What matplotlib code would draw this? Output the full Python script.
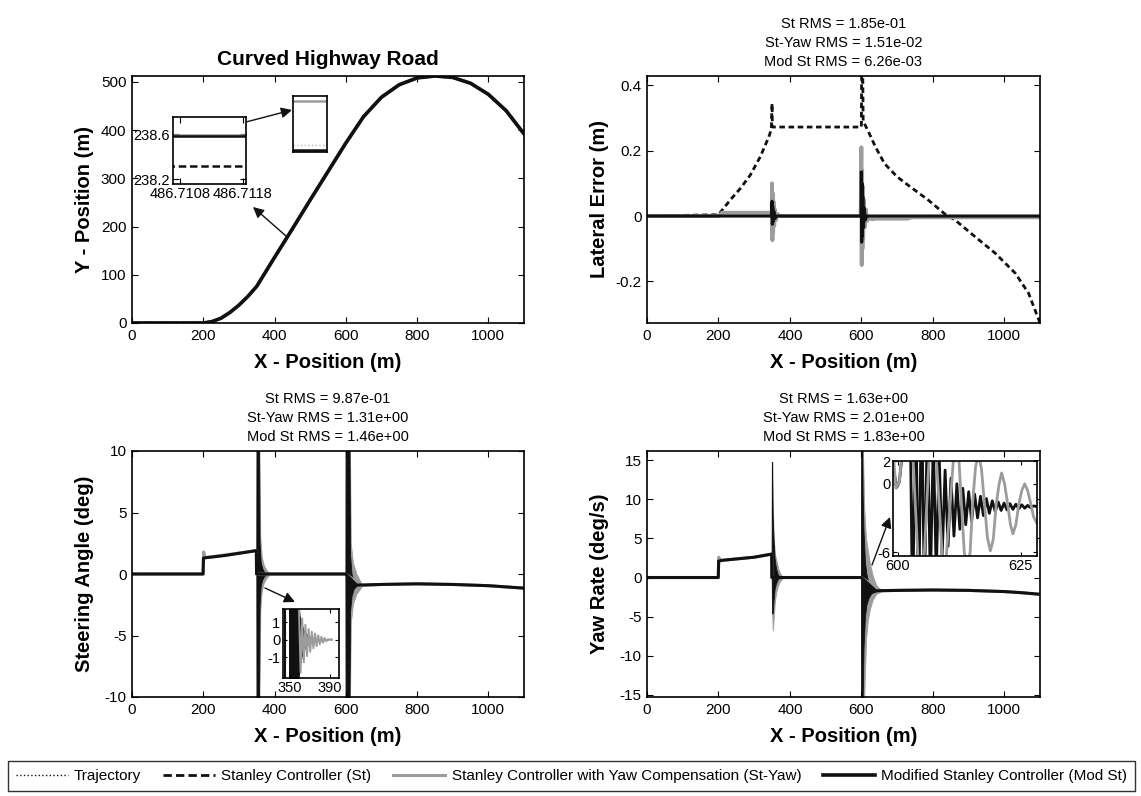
import matplotlib
matplotlib.use("Agg")
import matplotlib.pyplot as plt
from matplotlib.patches import FancyArrowPatch

plt.rcParams["font.family"] = ["Liberation Sans", "DejaVu Sans"]
plt.rcParams["axes.unicode_minus"] = False

# ---------------------------------------------------------------------------
# Data
# ---------------------------------------------------------------------------
# Road / trajectory (X, Y in m)
road_x = [0, 100, 200, 225, 250, 275, 300, 325, 350, 400, 450, 500, 550, 600,
          650, 700, 750, 800, 850, 900, 950, 1000, 1050, 1100]
road_y = [0, 0, 0, 3, 10, 22, 37, 55, 76, 136, 195, 255, 314, 373,
          428, 468, 494, 508, 512, 509, 497, 474, 440, 392]

# zoom detail around X = 486.711 m
zoom_x = [486.7106, 486.7119]
zoom_traj_y = [238.5844, 238.5844]
zoom_st_y = [238.32, 238.32]
zoom_yaw_y = [238.5899, 238.5899]
zoom_mod_y = [238.5837, 238.5837]

# Lateral error (m)
lat_ref_x = [0, 1100]
lat_ref_y = [0, 0]
lat_st_x = [0, 200, 233, 261, 289, 317, 341, 348, 350, 351, 600, 601, 603.5, 605,
            618, 640, 665, 700, 730, 787, 834, 862, 918, 975, 1031, 1068, 1100]
lat_st_y = [0, 0.004, 0.049, 0.084, 0.125, 0.181, 0.242, 0.265, 0.344, 0.272, 0.272,
            0.5, 0.5, 0.29, 0.262, 0.21, 0.16, 0.12, 0.095, 0.049, 0.006, -0.012,
            -0.063, -0.114, -0.175, -0.236, -0.327]
lat_yaw_x = [0, 200, 210, 345, 349, 350, 351, 352, 353, 354, 356, 358, 361, 365,
             372, 598, 600, 601, 602, 603, 604, 605, 607, 609, 612, 616, 622,
             630, 640, 730, 740, 1100]
lat_yaw_y = [0, 0, 0.01, 0.01, 0.008, 0.10, -0.074, 0.07, -0.05, 0.045, -0.03,
             0.02, -0.012, 0.006, 0.0, 0.0, 0.21, -0.15, 0.14, -0.10, 0.09, -0.07,
             0.05, -0.035, 0.02, -0.015, -0.005, -0.01, -0.008, -0.008, -0.004,
             -0.004]
lat_mod_x = [0, 349, 350, 351, 352, 353, 355, 358, 362, 599, 600, 601, 602, 603,
             604, 606, 608, 611, 615, 1100]
lat_mod_y = [0, 0, 0.045, -0.025, 0.03, -0.018, 0.015, -0.008, 0, 0, 0.135, -0.08,
             0.10, -0.06, 0.06, -0.035, 0.025, -0.012, 0, 0]

# Steering angle (deg): slow part
steer_yaw_x = [0, 199.5, 201, 204, 210, 260, 349, 349.5, 390, 599.5, 645, 700,
               800, 900, 1000, 1050, 1100]
steer_yaw_y = [0, 0, 1.8, 1.4, 1.35, 1.55, 1.9, 0, 0, 0, -0.95, -0.85, -0.8,
               -0.85, -0.95, -1.05, -1.15]
steer_mod_x = [0, 199.5, 200.5, 260, 349, 349.5, 378, 599.5, 630, 700, 800, 900,
               1000, 1050, 1100]
steer_mod_y = [0, 0, 1.3, 1.5, 1.9, 0, 0, 0, -0.9, -0.85, -0.8, -0.85, -0.95,
               -1.05, -1.15]
# Steering angle: oscillation envelopes (x, upper, lower)
steer_yaw_env1 = ([349, 349.5, 357, 360, 364, 370, 378, 388],
                  [1.9, 12, 12, 3, 1.4, 0.7, 0.3, 0],
                  [1.9, -12, -12, -3, -1.4, -0.7, -0.3, 0])
steer_mod_env1 = ([349, 349.5, 356, 358, 361, 365, 370, 378],
                  [1.9, 12, 12, 2.5, 1.0, 0.5, 0.2, 0],
                  [1.9, -12, -12, -2.5, -1.0, -0.5, -0.2, 0])
steer_yaw_env2 = ([599, 599.5, 611, 614, 620, 630, 645],
                  [0, 12, 12, 2.5, 0.9, 0, -0.85],
                  [0, -12, -12, -4, -2.4, -1.6, -1.0])
steer_mod_env2 = ([599, 599.5, 610, 612, 616, 622, 630],
                  [0, 12, 12, 1.5, 0, -0.6, -0.85],
                  [0, -12, -12, -3, -1.8, -1.2, -0.95])
# Steering inset (350-390 m)
sin_mod_x = [348.5, 358.0, 360, 362, 364, 367, 371, 376, 383, 392]
sin_mod_up = [3, 3, 1.4, 0.9, 0.55, 0.3, 0.13, 0.05, 0.02, 0.01]
sin_mod_lo = [-3, -3, -1.6, -1.0, -0.6, -0.35, -0.15, -0.06, -0.02, -0.01]
sin_pre_x = [344.6, 344.6]
sin_pre_y = [-3, 3]
sin_yaw_x = [357, 359.0, 360.6, 362.2, 363.8, 365.4, 367.0, 368.6, 370.2, 371.8,
             373.4, 375.0, 376.6, 378.2, 379.8, 381.4, 383.0, 384.6, 386.2, 388.0,
             392]
sin_yaw_y = [3, 1.7, -1.9, 1.2, -1.3, 0.85, -0.95, 0.6, -0.7, 0.45, -0.5, 0.35,
             -0.38, 0.25, -0.27, 0.16, -0.18, 0.09, -0.1, 0.02, 0.0]

# Yaw rate (deg/s): slow part
yaw_yaw_x = [0, 199.5, 201, 204, 210, 300, 349, 349.5, 390, 599.5, 655, 700, 800,
             900, 1000, 1050, 1100]
yaw_yaw_y = [0, 0, 2.6, 2.2, 2.2, 2.6, 3.0, 0, 0, 0, -1.7, -1.65, -1.6, -1.65,
             -1.8, -1.95, -2.15]
yaw_mod_x = [0, 199.5, 200.5, 210, 300, 349, 349.5, 372, 599.5, 640, 700, 800,
             900, 1000, 1050, 1100]
yaw_mod_y = [0, 0, 2.1, 2.2, 2.6, 3.0, 0, 0, 0, -1.7, -1.65, -1.6, -1.65, -1.8,
             -1.95, -2.15]
yaw_yaw_env1 = ([349, 349.5, 352, 355, 358, 362, 367, 373, 382],
                [3.0, 14, 9, 5, 3, 2.2, 1.2, 0.5, 0],
                [3.0, -3, -6.8, -5, -3, -1.8, -1, -0.4, 0])
yaw_mod_env1 = ([349, 349.5, 350.5, 351.5, 354, 357, 361, 366, 372],
                [3.0, 14.8, 14.8, 8.4, 5, 2.5, 1.2, 0.4, 0],
                [3.0, -2, -4.6, -4.6, -3, -1.5, -0.7, -0.2, 0])
yaw_yaw_env2 = ([599, 599.5, 604, 608, 613, 618, 624, 632, 642, 655],
                [0, 17, 17, 9, 5, 3.5, 1.8, 0.2, -1.0, -1.7],
                [0, -16, -16, -15.3, -8, -5.5, -4, -2.8, -2.1, -1.8])
yaw_mod_env2 = ([599, 599.5, 602.5, 603.5, 606, 610, 614, 620, 628, 640],
                [0, 17, 17, 10.7, 6, 2, 0.5, -0.8, -1.4, -1.7],
                [0, -16, -16, -16, -9, -5, -3.5, -2.6, -2.0, -1.8])
# Yaw-rate inset (600-628 m)
yin_mod_x = [599.2, 599.8, 600.3, 602.4, 603.0, 603.6, 604.2, 604.8, 605.4, 606.0,
             606.6, 607.2, 607.8, 608.4, 609.0, 609.6, 610.2, 610.8, 611.4, 612.0,
             612.6, 613.2, 613.8, 614.4, 615.0, 615.6, 616.2, 616.8, 617.4, 618.0,
             618.6, 619.2, 619.8, 620.4, 621.0, 621.6, 622.2, 622.8, 623.4, 624.0,
             624.6, 625.2, 625.8, 626.4, 627.0, 627.6, 628.3]
yin_mod_y = [1.0, -0.3, 0.2, 9, -12, 9, -12, 8, -10, 6, -9, 4, -8, 2.5, -6.5, 1.2,
             -5.5, 0.5, -4.6, 0.0, -4.0, -0.4, -3.6, -0.7, -3.3, -0.9, -3.0, -1.1,
             -2.8, -1.3, -2.6, -1.5, -2.45, -1.6, -2.35, -1.7, -2.3, -1.75, -2.25,
             -1.8, -2.2, -1.85, -2.15, -1.9, -2.1, -1.95, -2.0]
yin_yaw_x = [599.0, 599.6, 600.3, 602.3, 604.7, 607.0, 609.4, 611.7, 612.3, 612.9,
             613.5, 614.1, 614.7, 615.2, 615.8, 616.4, 617.0, 617.6, 618.2, 618.8,
             619.4, 620.0, 620.6, 621.1, 621.7, 622.3, 622.9, 623.4, 624.0, 624.6,
             625.2, 625.8, 626.4, 627.0, 627.6, 628.3]
yin_yaw_y = [3.0, -0.4, 0.2, 9.0, -12.0, 8.0, -9.0, 4.5, 3.0, -1.6, -6.0, -7.5,
             -6.0, -1.7, 1.5, 2.6, 1.3, -1.7, -4.7, -5.9, -4.9, -1.8, 0.0, 0.95,
             0.0, -1.7, -3.6, -4.4, -3.6, -1.8, -0.6, 0.0, -0.6, -1.7, -2.9, -3.5]

titles = {
    "lat": "St RMS = 1.85e-01\nSt-Yaw RMS = 1.51e-02\nMod St RMS = 6.26e-03",
    "steer": "St RMS = 9.87e-01\nSt-Yaw RMS = 1.31e+00\nMod St RMS = 1.46e+00",
    "yaw": "St RMS = 1.63e+00\nSt-Yaw RMS = 2.01e+00\nMod St RMS = 1.83e+00",
}
x_ticks = [0, 200, 400, 600, 800, 1000]

# ---------------------------------------------------------------------------
# Layout / styles
# ---------------------------------------------------------------------------
W, H = 1141, 796
BLACK = "#111111"
GRAY = "#9c9c9c"
LW = 2.2


def box(x0, y0, x1, y1):
    return [x0 / W, 1 - y1 / H, (x1 - x0) / W, (y1 - y0) / H]


def fpt(px, py):
    return (px / W, 1 - py / H)


def style(ax, fs=11):
    ax.tick_params(direction="in", top=True, right=True, length=4, width=0.8,
                   labelsize=fs, pad=4)
    for sp in ax.spines.values():
        sp.set_linewidth(1.2)


def main_labels(ax, ylabel):
    ax.set_xlim(0, 1100)
    ax.set_xticks(x_ticks)
    ax.set_xlabel("X - Position (m)", fontsize=14.5, fontweight="bold")
    ax.set_ylabel(ylabel, fontsize=14.5, fontweight="bold")
    ax.xaxis.set_label_coords(0.5, -0.122)
    ax.yaxis.set_label_coords(-0.097, 0.5)
    style(ax)


def envelope(ax, env, color):
    ax.fill_between(env[0], env[2], env[1], color=color, lw=0.6, edgecolor=color)


fig = plt.figure(figsize=(W / 100, H / 100), dpi=100)

ax_tl = fig.add_axes(box(132, 76, 524, 323))
ax_tr = fig.add_axes(box(647, 76, 1040, 323))
ax_bl = fig.add_axes(box(132, 451, 524, 697))
ax_br = fig.add_axes(box(647, 451, 1040, 697))

# --- Curved highway road ---------------------------------------------------
l_st, = ax_tl.plot(road_x, road_y, color=BLACK, ls=(0, (3, 1.5)), lw=2,
                   label="Stanley Controller (St)")
l_yaw, = ax_tl.plot(road_x, road_y, color=GRAY, lw=LW,
                    label="Stanley Controller with Yaw Compensation (St-Yaw)")
l_mod, = ax_tl.plot(road_x, road_y, color=BLACK, lw=2.6,
                    label="Modified Stanley Controller (Mod St)")
l_ref, = ax_tl.plot(road_x, road_y, color=BLACK, ls=":", lw=1,
                    label="Trajectory")
ax_tl.set_ylim(0, 512)
ax_tl.set_yticks([0, 100, 200, 300, 400, 500])
ax_tl.set_title("Curved Highway Road", fontsize=15, fontweight="bold", pad=8)
main_labels(ax_tl, "Y - Position (m)")

ins1 = fig.add_axes(box(173, 117, 246, 184))
ins1.plot(zoom_x, zoom_st_y, color=BLACK, ls=(0, (3, 1.5)), lw=1.8)
ins1.plot(zoom_x, zoom_yaw_y, color=GRAY, lw=1.8)
ins1.plot(zoom_x, zoom_mod_y, color=BLACK, lw=1.8)
ins1.plot(zoom_x, zoom_traj_y, color=BLACK, ls=":", lw=1)
ins1.set_xlim(486.71069, 486.71185)
ins1.set_ylim(238.16, 238.75)
ins1.set_xticks([486.7108, 486.7118])
ins1.set_xticklabels(["486.7108", "486.7118"])
ins1.set_yticks([238.2, 238.6])
ins1.set_yticklabels(["238.2", "238.6"])
style(ins1, fs=10.5)
ins1.tick_params(pad=2)

ins2 = fig.add_axes(box(293, 96, 327, 152))
ins2.plot(zoom_x, zoom_yaw_y, color=GRAY, lw=1.8)
ins2.plot(zoom_x, zoom_mod_y, color=BLACK, lw=1.8)
ins2.plot(zoom_x, zoom_traj_y, color="#bbbbbb", ls=":", lw=1)
ins2.set_xlim(zoom_x)
ins2.set_ylim(238.5835, 238.5905)
ins2.set_xticks([])
ins2.set_yticks([])
style(ins2)

# --- Lateral error -----------------------------------------------------------
ax_tr.plot(lat_ref_x, lat_ref_y, color=BLACK, ls=":", lw=1)
ax_tr.plot(lat_st_x, lat_st_y, color=BLACK, ls=(0, (2, 1.3)), lw=2)
ax_tr.plot(lat_yaw_x, lat_yaw_y, color=GRAY, lw=LW + 0.6)
ax_tr.plot(lat_mod_x, lat_mod_y, color=BLACK, lw=LW)
ax_tr.set_ylim(-0.327, 0.428)
ax_tr.set_yticks([-0.2, 0, 0.2, 0.4])
ax_tr.set_yticklabels(["-0.2", "0", "0.2", "0.4"])
ax_tr.set_title(titles["lat"], fontsize=10.5, linespacing=1.45, pad=7)
main_labels(ax_tr, "Lateral Error (m)")

# --- Steering angle ------------------------------------------------------------
envelope(ax_bl, steer_yaw_env1, GRAY)
envelope(ax_bl, steer_yaw_env2, GRAY)
ax_bl.plot(steer_yaw_x, steer_yaw_y, color=GRAY, lw=LW)
envelope(ax_bl, steer_mod_env1, BLACK)
envelope(ax_bl, steer_mod_env2, BLACK)
ax_bl.plot(steer_mod_x, steer_mod_y, color=BLACK, lw=LW)
ax_bl.set_ylim(-10, 10)
ax_bl.set_yticks([-10, -5, 0, 5, 10])
ax_bl.set_title(titles["steer"], fontsize=10.5, linespacing=1.45, pad=7)
main_labels(ax_bl, "Steering Angle (deg)")

ins3 = fig.add_axes(box(283, 609, 339, 678))
ins3.plot(sin_yaw_x, sin_yaw_y, color=GRAY, lw=1.4)
ins3.fill_between(sin_mod_x, sin_mod_lo, sin_mod_up, color=BLACK, lw=0)
ins3.plot(sin_pre_x, sin_pre_y, color=BLACK, lw=1.5)
ins3.set_xlim(343, 399)
ins3.set_ylim(-2.2, 1.75)
ins3.set_xticks([350, 390])
ins3.set_yticks([-1, 0, 1])
style(ins3, fs=10.5)
ins3.tick_params(pad=2, length=3)

# --- Yaw rate ------------------------------------------------------------------
envelope(ax_br, yaw_yaw_env1, GRAY)
envelope(ax_br, yaw_yaw_env2, GRAY)
ax_br.plot(yaw_yaw_x, yaw_yaw_y, color=GRAY, lw=LW)
envelope(ax_br, yaw_mod_env1, BLACK)
envelope(ax_br, yaw_mod_env2, BLACK)
ax_br.plot(yaw_mod_x, yaw_mod_y, color=BLACK, lw=LW)
ax_br.set_ylim(-15.3, 16.2)
ax_br.set_yticks([-15, -10, -5, 0, 5, 10, 15])
ax_br.set_title(titles["yaw"], fontsize=10.5, linespacing=1.45, pad=7)
main_labels(ax_br, "Yaw Rate (deg/s)")

ins4 = fig.add_axes(box(893, 461, 1037, 556))
ins4.plot(yin_mod_x, yin_mod_y, color=BLACK, lw=2)
ins4.plot(yin_yaw_x, yin_yaw_y, color=GRAY, lw=2)
ins4.set_xlim(599, 628.3)
ins4.set_ylim(-6.35, 2)
ins4.set_xticks([600, 625])
ins4.set_yticks([-6, 0, 2])
style(ins4, fs=10.5)
ins4.tick_params(pad=2, length=3)

# --- Arrows --------------------------------------------------------------------
for tail, head in [((246, 122), (292, 110)), ((286, 236), (253, 207)),
                   ((265, 588), (295, 602)), ((872, 565), (890, 517))]:
    fig.add_artist(FancyArrowPatch(fpt(*tail), fpt(*head), transform=fig.transFigure,
                                   arrowstyle="-|>", mutation_scale=16,
                                   color=BLACK, lw=1, shrinkA=0, shrinkB=0))

# --- Legend --------------------------------------------------------------------
leg = fig.legend(handles=[l_ref, l_st, l_yaw, l_mod],
                 labels=[h.get_label() for h in [l_ref, l_st, l_yaw, l_mod]],
                 loc="center", bbox_to_anchor=(8 / W, 1 - 792 / H, 1127 / W, 32 / H),
                 mode="expand", ncol=4, fontsize=11,
                 frameon=True, fancybox=False, handlelength=3.4,
                 handletextpad=0.4, columnspacing=0.8, borderpad=0.5,
                 borderaxespad=0)
leg.get_frame().set_edgecolor("black")
leg.get_frame().set_linewidth(1.0)

fig.savefig("out.png", dpi=100)
